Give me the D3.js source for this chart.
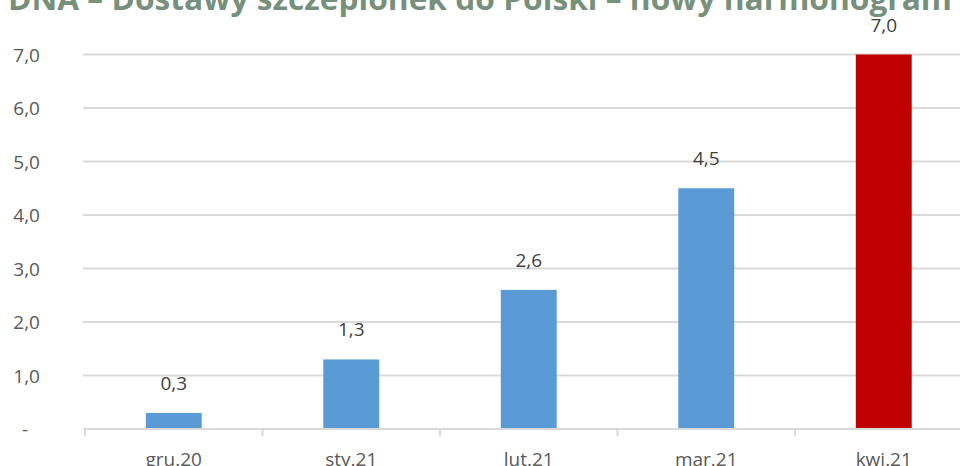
<!DOCTYPE html>
<html>
<head>
<meta charset="utf-8">
<script src="https://cdn.jsdelivr.net/npm/d3@7"></script>
<style>
  html, body { margin: 0; padding: 0; background: #fff; }
  svg { display: block; }
</style>
</head>
<body>
<div id="chart"></div>
<script>
        /* chart data */
        var months = ["gru.20", "sty.21", "lut.21", "mar.21", "kwi.21"];
        var deliveries = [0.3, 1.3, 2.6, 4.5, 7.0];
        var barColors = ["#5b9bd5", "#5b9bd5", "#5b9bd5", "#5b9bd5", "#c00000"];
        var yTicks = [0, 1, 2, 3, 4, 5, 6, 7];
        var title = "DNA – Dostawy szczepionek do Polski – nowy harmonogram";

        var w = 960, h = 466;

        // plot area runs past the right edge, like the cropped original
        var x = d3.scaleBand()
            .domain(months)
            .range([85, 85 + 177.5 * months.length])
            .paddingInner(0.685)
            .paddingOuter(0.3425);

        var y = d3.scaleLinear()
            .domain([0, 7])
            .range([429, 54.5]);

        var svg = d3.select("#chart").append("svg")
            .attr("width", w)
            .attr("height", h);

        // decimal comma, zero shown as a dash
        function fmt(v) {
            if (v == 0) return "-";
            return d3.format(".1f")(v).replace(".", ",");
        }

        /* gridlines */
        svg.append("g").selectAll("line")
            .data(yTicks.filter(function(d) { return d > 0; }))
            .enter().append("line")
            .attr("x1", 83).attr("x2", w)
            .attr("y1", function(d) { return y(d); })
            .attr("y2", function(d) { return y(d); })
            .style("stroke", "#d9d9d9")
            .style("stroke-width", 2);

        /* y axis labels */
        var yAxis = d3.axisLeft(y)
            .tickValues(yTicks)
            .tickFormat(fmt)
            .tickSize(0)
            .tickPadding(0);

        var ya = svg.append("g")
            .attr("transform", "translate(40,0)")
            .call(yAxis)
            .call(function(g) { g.select(".domain").remove(); });

        ya.selectAll("text")
            .attr("dy", "0.36em")
            .style("font-family", "'Open Sans', sans-serif")
            .style("font-size", "19px")
            .style("fill", "#595959");

        // accounting dash for zero sits further left
        ya.selectAll(".tick text")
            .filter(function(d) { return d === 0; })
            .attr("x", -12);

        /* bars */
        svg.append("g").selectAll("rect")
            .data(deliveries)
            .enter().append("rect")
            .attr("x", function(d, i) { return x(months[i]); })
            .attr("width", x.bandwidth())
            .attr("y", function(d) { return y(d); })
            .attr("height", function(d) { return y(0) - y(d); })
            .style("fill", function(d, i) { return barColors[i]; });

        /* value labels */
        svg.append("g").selectAll("text")
            .data(deliveries)
            .enter().append("text")
            .attr("x", function(d, i) { return x(months[i]) + x.bandwidth() / 2; })
            .attr("y", function(d) { return y(d) - 23; })
            .attr("text-anchor", "middle")
            .style("font-family", "'Open Sans', sans-serif")
            .style("font-size", "19px")
            .style("fill", "#404040")
            .text(fmt);

        /* x axis: baseline with ticks between categories */
        var bounds = d3.range(months.length + 1).map(function(i) { return 85 + 177.5 * i; });
        var xa = svg.append("g");
        xa.append("line")
            .attr("x1", 83).attr("x2", w)
            .attr("y1", y(0)).attr("y2", y(0))
            .style("stroke", "#d9d9d9")
            .style("stroke-width", 2);
        xa.selectAll(".tk")
            .data(bounds)
            .enter().append("line")
            .attr("class", "tk")
            .attr("x1", function(d) { return d; })
            .attr("x2", function(d) { return d; })
            .attr("y1", y(0))
            .attr("y2", y(0) + 7)
            .style("stroke", "#d9d9d9")
            .style("stroke-width", 2);
        xa.selectAll("text")
            .data(months)
            .enter().append("text")
            .attr("x", function(d) { return x(d) + x.bandwidth() / 2; })
            .attr("y", 466)
            .attr("text-anchor", "middle")
            .style("font-family", "'Open Sans', sans-serif")
            .style("font-size", "19px")
            .style("fill", "#595959")
            .text(function(d) { return d; });

        /* title, cropped at the top of the frame */
        svg.append("text")
            .attr("x", 8)
            .attr("y", 10)
            .attr("textLength", 944)
            .attr("lengthAdjust", "spacingAndGlyphs")
            .style("font-family", "'Open Sans', sans-serif")
            .style("font-weight", "bold")
            .style("font-size", "31px")
            .style("fill", "#76907c")
            .text(title);
</script>
</body>
</html>
